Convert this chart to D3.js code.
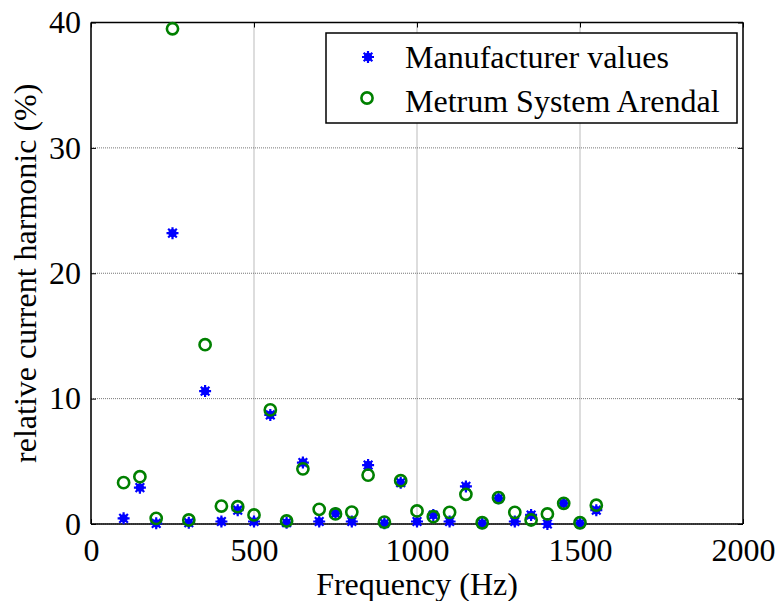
<!DOCTYPE html>
<html><head><meta charset="utf-8">
<script src="https://cdn.jsdelivr.net/npm/d3@7"></script>
<style>body{margin:0;background:#fff}</style>
</head><body><svg id="c" width="777" height="601"></svg>
<script>
const freqs = [100,150,200,250,300,350,400,450,500,550,600,650,700,750,800,850,900,950,1000,1050,1100,1150,1200,1250,1300,1350,1400,1450,1500,1550];
const manufacturer = [0.45,2.9,0.05,23.2,0.1,10.6,0.2,1.1,0.2,8.7,0.1,4.9,0.2,0.85,0.2,4.7,0.05,3.3,0.2,0.72,0.2,3.0,0.05,2.05,0.2,0.72,0.0,1.65,0.05,1.1];
const metrum = [3.3,3.77,0.45,39.5,0.32,14.3,1.43,1.38,0.72,9.1,0.24,4.4,1.17,0.8,0.95,3.9,0.15,3.45,1.04,0.58,0.93,2.37,0.1,2.1,0.93,0.32,0.8,1.65,0.1,1.5];
const xTicks = [0,500,1000,1500,2000];
const yTicks = [0,10,20,30,40];
const seriesNames = ["Manufacturer values","Metrum System Arendal"];
const xLabel = "Frequency (Hz)";
const yLabel = "relative current harmonic (%)";

// pick an installed Times-like font
function pickFont(){
  const c=document.createElement("canvas").getContext("2d");
  const s="Frequency (Hz) Manufacturer 0123";
  const cands=["Liberation Serif","Times New Roman","Tinos","Nimbus Roman","Nimbus Roman No9 L","Noto Serif","DejaVu Serif"];
  for(const f of cands){
    let ok=false;
    for(const base of ["monospace","sans-serif"]){
      c.font=`32px ${base}`; const w0=c.measureText(s).width;
      c.font=`32px "${f}", ${base}`; const w1=c.measureText(s).width;
      if(Math.abs(w1-w0)>0.5) ok=true;
    }
    if(ok) return `"${f}", serif`;
  }
  return "serif";
}
const FONT = pickFont();

const L=91, R=743, T=22.5, B=524;
const svg = d3.select("#c");
const x = d3.scaleLinear().domain([0,2000]).range([L,R]);
const y = d3.scaleLinear().domain([0,40]).range([B,T]);

// grid
const g = svg.append("g");
g.selectAll(".gx").data(xTicks).join("line")
  .attr("x1",d=>x(d)).attr("x2",d=>x(d)).attr("y1",T).attr("y2",B)
  .attr("stroke","#777").attr("stroke-width",1).attr("stroke-dasharray","1,1");
g.selectAll(".gy").data(yTicks).join("line")
  .attr("y1",d=>y(d)).attr("y2",d=>y(d)).attr("x1",L).attr("x2",R)
  .attr("stroke","#777").attr("stroke-width",1).attr("stroke-dasharray","1,1");

// axes
const fs = 32;
const xa = svg.append("g").attr("transform",`translate(0,${B})`)
  .call(d3.axisBottom(x).tickValues(xTicks).tickSize(-5).tickPadding(14).tickFormat(d3.format("d")));
const xat = svg.append("g").attr("transform",`translate(0,${T})`)
  .call(d3.axisTop(x).tickValues(xTicks).tickSize(-5).tickFormat(""));
const ya = svg.append("g").attr("transform",`translate(${L},0)`)
  .call(d3.axisLeft(y).tickValues(yTicks).tickSize(-5).tickPadding(10).tickFormat(d3.format("d")));
const yar = svg.append("g").attr("transform",`translate(${R},0)`)
  .call(d3.axisRight(y).tickValues(yTicks).tickSize(-5).tickFormat(""));
[xa,xat,ya,yar].forEach(a=>{
  a.attr("font-family",FONT).attr("font-size",fs);
  a.select(".domain").attr("stroke","#000").attr("stroke-width",1.5);
  a.selectAll(".tick line").attr("stroke","#000");
  a.selectAll("text").attr("fill","#000");
});
xa.selectAll(".domain").attr("d",`M${L},0H${R}`);
xat.selectAll(".domain").attr("d",`M${L},0H${R}`);
ya.selectAll(".domain").attr("d",`M0,${T}V${B}`);
yar.selectAll(".domain").attr("d",`M0,${T}V${B}`);

// labels
svg.append("text").attr("x",(L+R)/2).attr("y",595).attr("text-anchor","middle")
  .attr("font-family",FONT).attr("font-size",fs).text(xLabel);
svg.append("text").attr("transform",`translate(36,${(T+B)/2}) rotate(-90)`).attr("text-anchor","middle")
  .attr("font-family",FONT).attr("font-size",fs).text(yLabel);

// markers
const star = (s)=>{const r=s, d=r*0.72;return `M${-r},0H${r}M0,${-r}V${r}M${-d},${-d}L${d},${d}M${-d},${d}L${d},${-d}`;};
const blue="#0000ff", green="#008000";
function blueMark(sel){
  sel.append("circle").attr("r",4.2).attr("fill",blue);
  sel.append("path").attr("d",star(6)).attr("stroke",blue).attr("stroke-width",2.2).attr("fill","none");
}
const pts = freqs.map((f,i)=>({f,m:manufacturer[i],n:metrum[i]}));
svg.append("g").selectAll("g").data(pts).join("g")
  .attr("transform",d=>`translate(${x(d.f)},${y(d.m)})`)
  .each(function(){ blueMark(d3.select(this)); });
svg.append("g").selectAll("circle").data(pts).join("circle")
  .attr("cx",d=>x(d.f)).attr("cy",d=>y(d.n))
  .attr("r",5.6).attr("fill","none").attr("stroke",green).attr("stroke-width",2.6);

// legend
const lg = svg.append("g");
lg.append("rect").attr("x",326).attr("y",33).attr("width",411).attr("height",90)
  .attr("fill","#fff").attr("stroke","#000").attr("stroke-width",1.5);
blueMark(lg.append("g").attr("transform","translate(368,57)"));
lg.append("circle").attr("cx",367).attr("cy",98).attr("r",5.6).attr("fill","none").attr("stroke",green).attr("stroke-width",2.6);
lg.append("text").attr("x",405).attr("y",68).attr("font-family",FONT).attr("font-size",fs).text(seriesNames[0]);
lg.append("text").attr("x",405).attr("y",112).attr("font-family",FONT).attr("font-size",fs).text(seriesNames[1]);
</script></body></html>
